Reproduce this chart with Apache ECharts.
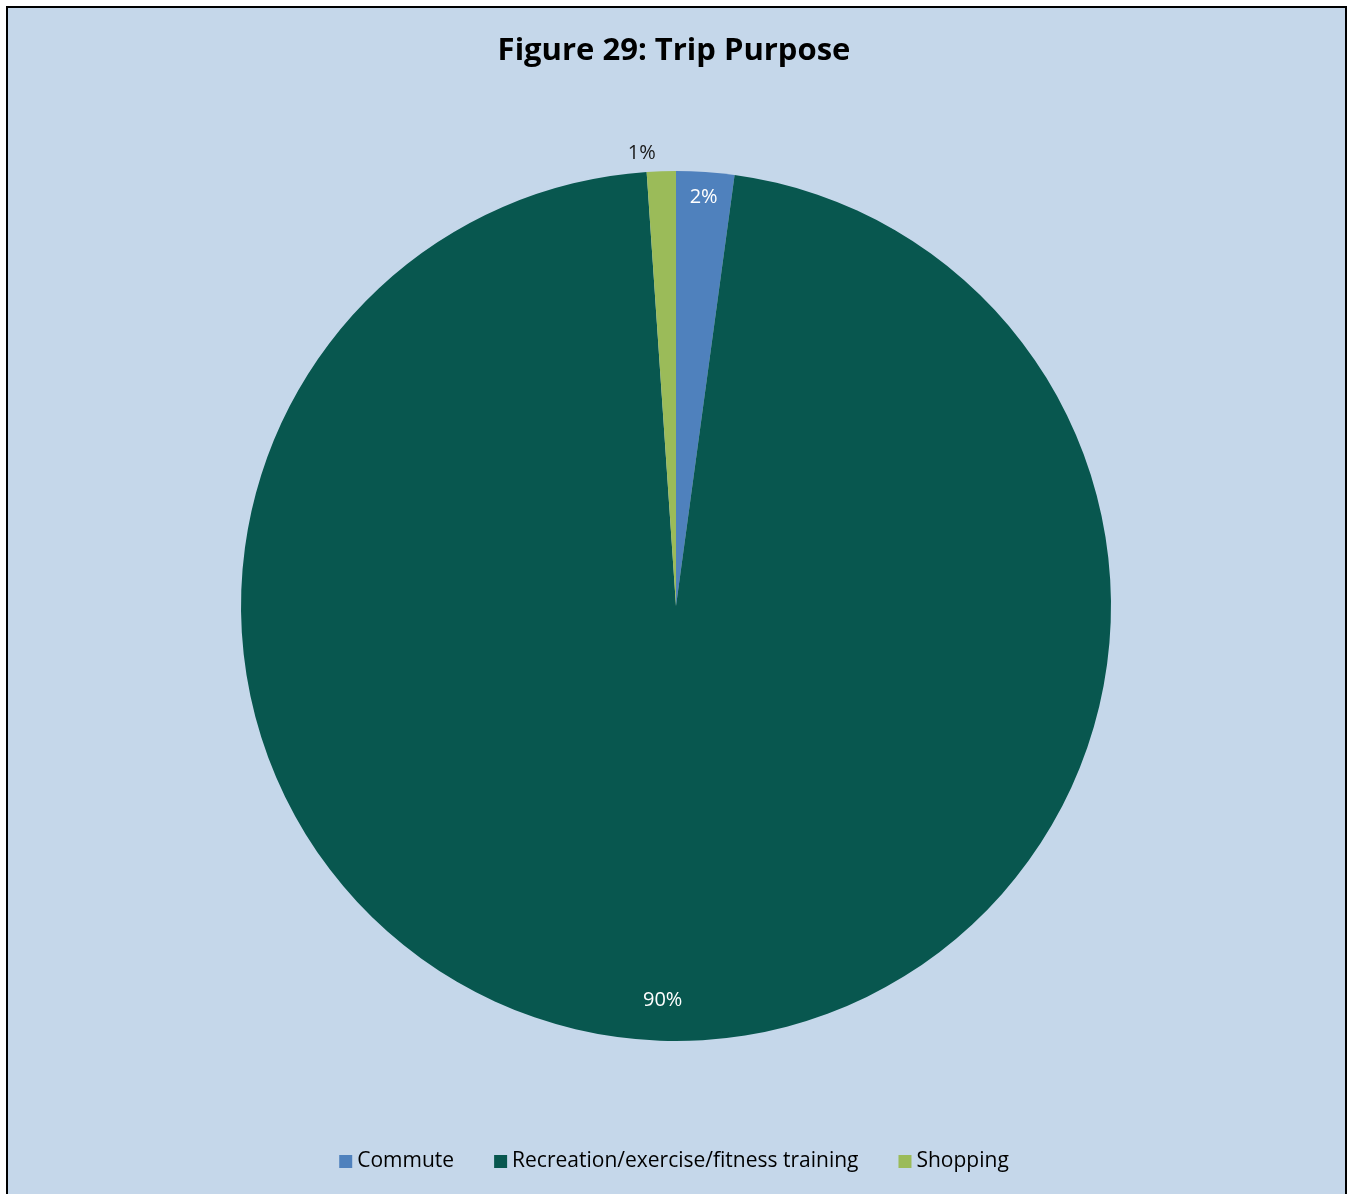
<!DOCTYPE html>
<html>
<head>
<meta charset="utf-8">
<script src="https://cdn.jsdelivr.net/npm/echarts@6/dist/echarts.min.js"></script>
<style>
  html, body { margin: 0; padding: 0; background: #ffffff; }
  #chart { width: 1348px; height: 1194px; }
</style>
</head>
<body>
<div id="chart"></div>
<script>
// Trip purpose shares (percent of respondents)
const categories = ['Commute', 'Recreation/exercise/fitness training', 'Shopping'];
const shares = [2, 90, 1];
const sliceColors = ['#4F81BD', '#08574F', '#9BBB59'];

const FONT = '"Open Sans", "Noto Sans", sans-serif';
const CX = 676, CY = 606, R = 435;

const chart = echarts.init(document.getElementById('chart'), null, { renderer: 'canvas' });

const sliceData = categories.map((name, i) => ({
  name: name,
  value: shares[i],
  itemStyle: { color: sliceColors[i] }
}));

// Transparent copy of the slices that only carries the label of one category.
function labelRing(showIndex, labelOpts) {
  return categories.map((name, i) => ({
    name: name,
    value: shares[i],
    itemStyle: { color: 'rgba(0,0,0,0)' },
    label: Object.assign({ show: i === showIndex }, labelOpts),
    labelLine: { show: false, length: 18, length2: 0 }
  }));
}

function labelSeries(innerFrac, data) {
  return {
    type: 'pie',
    silent: true,
    legendHoverLink: false,
    center: [CX, CY],
    radius: [R * innerFrac, R],
    startAngle: 90,
    clockwise: true,
    label: { formatter: '{c}%', fontFamily: FONT, fontSize: 20 },
    data: data
  };
}

chart.setOption({
  backgroundColor: '#ffffff',
  animation: false,
  graphic: [{
    type: 'rect',
    z: -10,
    shape: { x: 7, y: 7, width: 1339, height: 1210 },
    style: { fill: '#C5D7EA', stroke: '#000000', lineWidth: 2 }
  }],
  title: {
    text: 'Figure 29: Trip Purpose',
    left: 'center',
    top: 31,
    textStyle: { fontFamily: FONT, fontSize: 31, fontWeight: 'bold', color: '#000000' }
  },
  legend: {
    bottom: 17,
    left: 'center',
    itemWidth: 13,
    itemHeight: 13,
    itemGap: 40,
    icon: 'rect',
    data: categories,
    textStyle: { fontFamily: FONT, fontSize: 21, color: '#000000' }
  },
  series: [
    {
      name: 'Trip Purpose',
      type: 'pie',
      center: [CX, CY],
      radius: [0, R],
      startAngle: 90,
      clockwise: true,
      label: { show: false },
      labelLine: { show: false },
      itemStyle: { borderWidth: 0 },
      data: sliceData
    },
    labelSeries(0.87, labelRing(0, { position: 'inside', color: '#ffffff' })),
    labelSeries(0.80, labelRing(1, { position: 'inside', color: '#ffffff' })),
    labelSeries(0.0, labelRing(2, { position: 'outside', color: '#1a1a1a' }))
  ]
});
</script>
</body>
</html>
